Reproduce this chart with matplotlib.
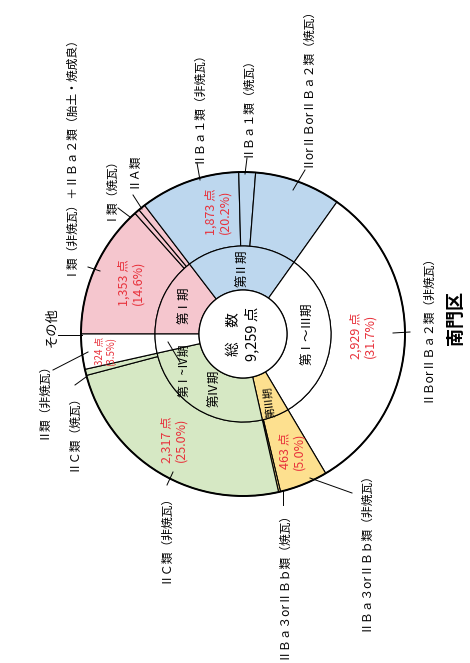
import matplotlib.pyplot as plt
from matplotlib.patches import Circle

plt.rcParams['font.family'] = ['Noto Sans CJK JP', 'DejaVu Sans']

# period totals (inner ring)
periods = ['第Ⅰ期', '第Ⅱ期', '第Ⅰ〜Ⅲ期', '第Ⅲ期', '第Ⅳ期', '第Ⅰ~Ⅳ期']
period_counts = [1353, 1873, 2929, 463, 2317, 324]
period_pct = ['14.6%', '20.2%', '31.7%', '5.0%', '25.0%', '3.5%']
period_colors = ['#f5c6ce', '#bdd7ee', '#ffffff', '#fde08f', '#d6e8c4', '#ffffff']

# type breakdown (outer ring), same order as the periods
types = ['Ⅰ類（非焼瓦）＋ⅡＢａ２類（胎土・焼成良）', 'Ⅰ類（焼瓦）', 'ⅡＡ類',
         'ⅡＢａ１類（非焼瓦）', 'ⅡＢａ１類（焼瓦）', 'ⅡorⅡＢorⅡＢａ２類（焼瓦）',
         'ⅡＢorⅡＢａ２類（非焼瓦）',
         'ⅡＢａ３orⅡＢｂ類（非焼瓦）', 'ⅡＢａ３orⅡＢｂ類（焼瓦）',
         'ⅡＣ類（非焼瓦）', 'ⅡＣ類（焼瓦）',
         'Ⅱ類（非焼瓦）']
type_counts = [1239, 48, 66,
               923, 154, 796,
               2929,
               445, 18,
               2260, 57,
               324]
type_group = [0, 0, 0, 1, 1, 1, 2, 3, 3, 4, 4, 5]

total = sum(period_counts)

fig = plt.figure(figsize=(4.7, 6.63), dpi=100)
ax = fig.add_axes([0, 0, 1, 1])

H = 663
cx, cy = 243, H - 334
R_out, R_mid, R_in = 162, 88, 44


def Y(y):
    return H - y


ax.pie(type_counts, colors=[period_colors[g] for g in type_group],
       startangle=180, counterclock=False, radius=R_out, center=(cx, cy),
       wedgeprops=dict(width=R_out - R_mid, edgecolor='black', linewidth=0.8))
ax.pie(period_counts, colors=period_colors,
       startangle=180, counterclock=False, radius=R_mid, center=(cx, cy),
       wedgeprops=dict(width=R_mid - R_in, edgecolor='black', linewidth=0.8))
ax.add_patch(Circle((cx, cy), R_out, fill=False, edgecolor='black', linewidth=1.4, zorder=3))
ax.add_patch(Circle((cx, cy), R_in, facecolor='white', edgecolor='black', linewidth=0.9, zorder=3))

ax.set_xlim(0, 470)
ax.set_ylim(0, H)
ax.axis('off')

# centre
ax.text(cx, cy, '総　数\n' + f'{total:,} 点', rotation=90, ha='center', va='center',
        fontsize=10.5, linespacing=1.25, zorder=4)

# period names in the inner ring
period_pos = [(185, 305, 90, 9), (243, 268, 90, 9), (308, 334, 90, 9),
              (270, 402, 97, 7.5), (215, 388, 90, 9), (184, 370, 90, 8.5)]
for name, (x, y, rot, fs) in zip(periods, period_pos):
    ax.text(x, Y(y), name, rotation=rot, ha='center', va='center', fontsize=fs)
ax.plot([168, 180], [Y(342), Y(362)], color='black', lw=0.7)

# counts and shares in red
count_pos = [(131, 283, 9), (218, 212, 9), (363, 336, 9),
             (292, 451, 9), (174, 440, 9), (105, 351, 7)]
for n, p, (x, y, fs) in zip(period_counts, period_pct, count_pos):
    ax.text(x, Y(y), f'{n:,} 点\n({p})', rotation=90, ha='center', va='center',
            fontsize=fs, color='#e8313b', linespacing=1.05)

# type labels with leader lines: text centre, leader start, leader end
type_pos = [
    ((68, 152), (88, 267), (100, 271)),
    ((108, 185), (118, 208), (130, 217)),
    ((133, 170), (133, 195), (142, 209)),
    ((198, 104), (197, 163), (200, 180)),
    ((247, 104), (247, 158), (245, 174)),
    ((307, 84), (305, 170), (293, 190)),
    ((427, 325), (393, 333), (410, 332)),
    ((365, 549), (352, 493), (310, 478)),
    ((283, 582), (283, 505), (283, 490)),
    ((165, 536), (167, 485), (173, 472)),
    ((73, 430), (75, 385), (86, 377)),
    ((43, 398), (53, 370), (88, 352)),
]
for name, ((tx, ty), (x0, y0), (x1, y1)) in zip(types, type_pos):
    ax.text(tx, Y(ty), name, rotation=90, ha='center', va='center', fontsize=8.5)
    ax.plot([x0, x1], [Y(y0), Y(y1)], color='black', lw=0.7)

ax.text(52, Y(327), 'その他', rotation=90, ha='center', va='center', fontsize=9.5)
ax.plot([58, 82], [Y(335), Y(335)], color='black', lw=0.7)

ax.text(455, Y(318), '南門区', rotation=90, ha='center', va='center',
        fontsize=13, fontweight='bold')

fig.savefig('out.png', dpi=100)
